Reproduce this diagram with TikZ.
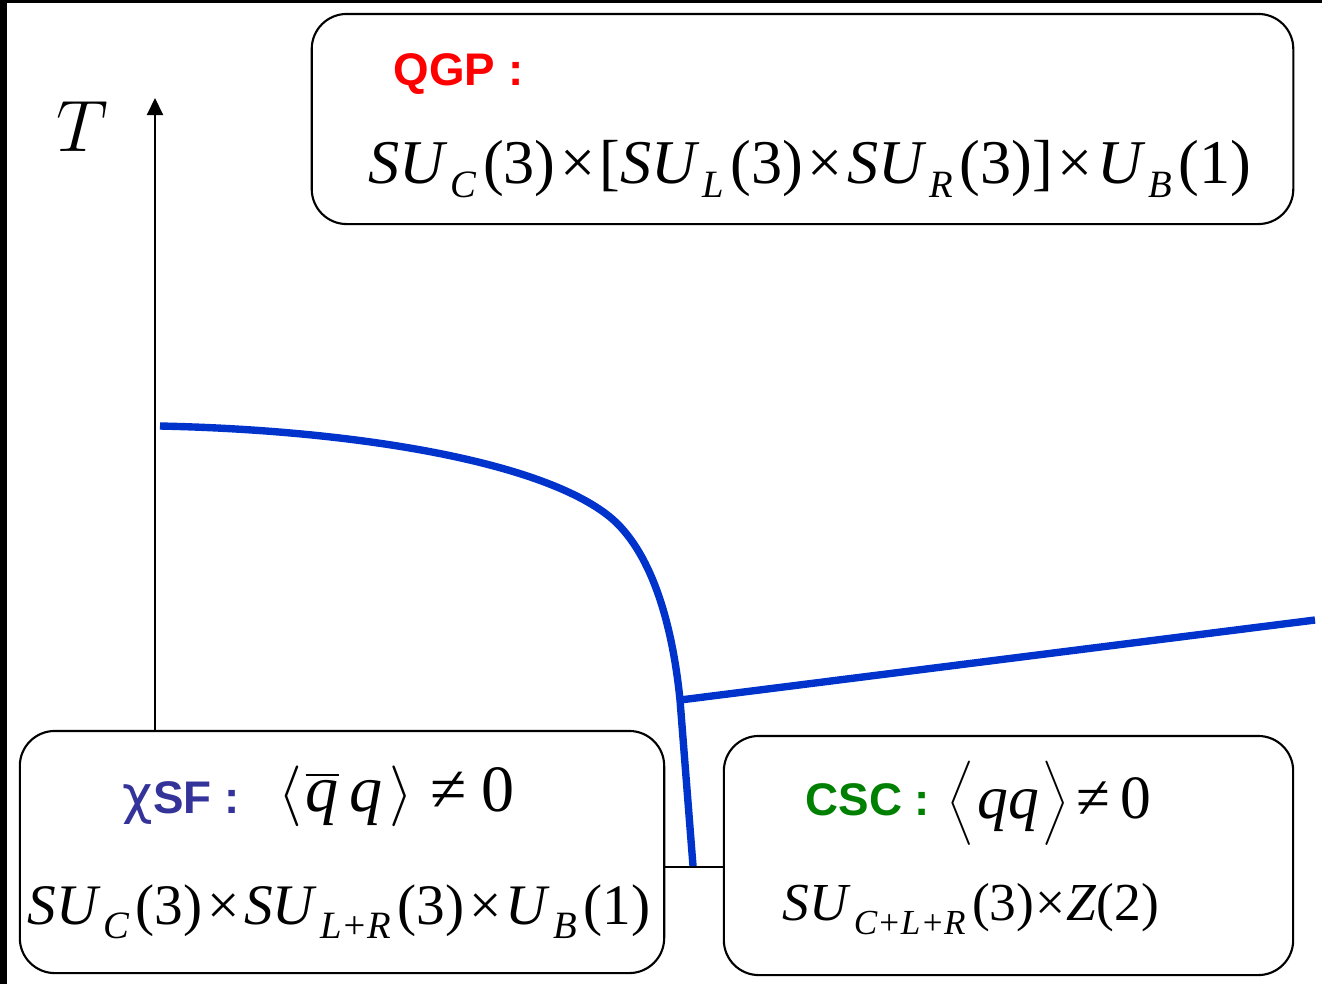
\documentclass[tikz,border=0pt]{standalone}
\usepackage{fontspec}
\setmainfont{Liberation Serif}
\newfontfamily\arialf{Liberation Sans}
\newfontfamily\dejavu{DejaVu Sans}
\usetikzlibrary{arrows.meta}
\definecolor{curveblue}{HTML}{0033CC}
\definecolor{sfblue}{HTML}{333399}
\definecolor{cscgreen}{HTML}{008000}
\newcommand\subsz{11}
\newcommand\fsub[1]{\kern0.8pt\raisebox{-4pt}{\fontsize{\subsz}{\subsz}\selectfont\itshape #1}\kern1.8pt}
\newcommand\tms{\kern1.3pt×\kern1.3pt}
\newcommand\SUx{\textit{SU}}
\newcommand\Ux{\textit{U}}
\tikzset{
  phasebox/.style={draw=black, line width=0.6pt, fill=white, rounded corners=0.35cm, inner sep=0pt},
  formula/.style={anchor=base west, inner sep=0pt},
  lab/.style={anchor=base west, inner sep=0pt},
  axisline/.style={line width=0.6pt, black},
  phaseline/.style={line width=2.1pt, curveblue, line cap=butt},
}
\begin{document}
\begin{tikzpicture}[x=0.01cm, y=-0.01cm]
\useasboundingbox (0,0) rectangle (1322,984);
\fill[white] (0,0) rectangle (1322,984);
% frame edges
\fill[black] (0,0) rectangle (7,984);
\fill[black] (0,0) rectangle (1322,3);
% axes
\coordinate (O) at (155,867);
\coordinate (Ttop) at (155,98);
\coordinate (Mu) at (1290,867);
\draw[axisline, -{Triangle[width=0.16cm,length=0.17cm]}] (O) -- (Ttop);
\draw[axisline] (O) -- (Mu);
\node[inner sep=0] (T) at (82,127) {\fontsize{21.5}{22}\selectfont$T$};
% boxes
\node[phasebox, minimum width=9.81cm, minimum height=2.10cm] (qgpbox) at (802.5,119) {};
\node[phasebox, minimum width=6.44cm, minimum height=2.42cm] (sfbox) at (342,852) {};
\node[phasebox, minimum width=5.69cm, minimum height=2.39cm] (cscbox) at (1008.5,855.5) {};
% QGP
\node[lab, font=\arialf\bfseries\fontsize{13}{13}\selectfont, text=red] (qgp) at (393,85) {QGP :};
\node[formula, font=\fontsize{17.7}{20}\selectfont] (qgpf) at (368,183) {\SUx\fsub{C}(3)\tms[\SUx\fsub{L}(3)\tms\SUx\fsub{R}(3)]\tms\Ux\fsub{B}(1)};
% chiSF
\node[lab, font=\arialf\bfseries\fontsize{13}{13}\selectfont, text=sfblue] (sf) at (122,813) {{\dejavu\mdseries\fontsize{15}{15}\selectfont χ}SF :};
\node[formula, font=\fontsize{18.8}{20}\selectfont] (sfc) at (278,811) {$\Big\langle$\kern1pt$\overline{\mbox{\itshape q}}$\kern3pt\textit{q}\kern2pt$\Big\rangle$\kern5pt≠\kern4pt0};
\node[formula, font=\fontsize{16.3}{20}\selectfont] (sff) at (27,924) {\SUx\fsub{C}(3)\tms\SUx\fsub{L+R}(3)\tms\Ux\fsub{B}(1)};
% CSC
\node[lab, font=\arialf\bfseries\fontsize{13}{13}\selectfont, text=cscgreen] (csc) at (805,815) {CSC :};
\node[formula, font=\fontsize{17.5}{20}\selectfont] (cscc) at (947,818) {$\bigg\langle$\kern1pt\textit{qq}\kern1pt$\bigg\rangle$\kern2pt≠\kern3pt0};
\renewcommand\subsz{10}
\node[formula, font=\fontsize{15.2}{20}\selectfont] (cscf) at (782,920) {\SUx\fsub{C+L+R}(3)\kern-1pt\tms\kern-1pt\textit{Z}(2)};
% phase boundaries
\coordinate (tc) at (160,426);
\coordinate (knee) at (610,517);
\coordinate (tri) at (680,700);
\coordinate (mu0) at (693,866);
\coordinate (cscend) at (1315,620);
\draw[phaseline] (tc) .. controls (350,430) and (540,460) .. (knee)
  .. controls (650,550) and (672,620) .. (tri) -- (mu0);
\draw[phaseline] (tri) -- (cscend);
\end{tikzpicture}
\end{document}
